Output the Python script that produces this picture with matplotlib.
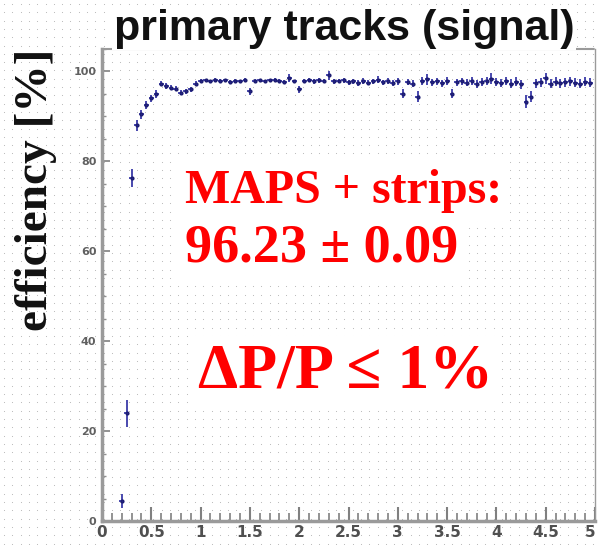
import numpy as np
import matplotlib
matplotlib.use("Agg")
import matplotlib.pyplot as plt
from matplotlib.ticker import MultipleLocator, FixedLocator

# Track-finding efficiency vs momentum, 0.05 GeV/c bins starting at p = 0.20
p_start, p_step = 0.20, 0.05
efficiency = [
    4.5, 24.0, 76.4, 88.0, 90.5, 92.5, 94.0, 95.0, 97.3, 96.8,
    96.4, 96.2, 95.3, 95.6, 96.0, 97.3, 97.9, 98.0, 97.8, 98.1,
    97.9, 98.0, 97.6, 97.9, 97.8, 98.1, 95.6, 97.9, 98.0, 97.8,
    98.0, 98.2, 97.9, 97.7, 98.6, 97.8, 96.0, 97.9, 98.1, 97.8,
    98.0, 97.9, 99.2, 97.8, 97.9, 98.0, 97.6, 97.8, 97.4, 97.9,
    97.5, 97.8, 98.2, 97.6, 97.9, 97.4, 97.8, 95.0, 97.6, 97.3,
    94.4, 97.9, 98.3, 97.6, 97.8, 97.4, 97.9, 95.0, 97.6, 97.8,
    97.5, 97.9, 97.3, 97.7, 97.8, 98.4, 97.6, 97.4, 97.8, 97.3,
    97.7, 97.2, 93.3, 94.4, 97.4, 97.6, 98.5, 97.3, 97.7, 97.4,
    97.6, 97.8, 97.5, 97.3, 97.7, 97.5,
]
eff_error = [
    1.5, 3.0, 2.0, 1.2, 1.0, 0.9, 0.8, 0.8, 0.6, 0.6,
    0.6, 0.6, 0.6, 0.6, 0.5, 0.5, 0.4, 0.4, 0.4, 0.4,
    0.4, 0.4, 0.4, 0.4, 0.4, 0.4, 0.8, 0.4, 0.4, 0.4,
    0.4, 0.4, 0.4, 0.4, 0.9, 0.4, 0.8, 0.4, 0.5, 0.5,
    0.5, 0.5, 1.0, 0.5, 0.5, 0.5, 0.6, 0.6, 0.6, 0.6,
    0.6, 0.6, 0.8, 0.6, 0.6, 0.7, 0.7, 1.0, 0.7, 0.8,
    1.2, 0.8, 1.2, 0.8, 0.8, 0.8, 0.8, 1.0, 0.8, 0.8,
    0.8, 0.9, 0.9, 0.9, 0.9, 1.2, 0.9, 0.9, 0.9, 1.0,
    1.0, 1.0, 1.4, 1.3, 1.0, 1.0, 1.2, 1.0, 1.0, 1.0,
    1.0, 1.0, 1.0, 1.0, 1.0, 1.0,
]
momentum = p_start + p_step * np.arange(len(efficiency))

x_ticks = [0, 0.5, 1, 1.5, 2, 2.5, 3, 3.5, 4, 4.5, 5]
x_tick_labels = ["0", "0.5", "1", "1.5", "2", "2.5", "3", "3.5", "4", "4.5", "5"]
y_ticks = [0, 20, 40, 60, 80, 100]

W, H = 598, 545
fig = plt.figure(figsize=(W / 100, H / 100), dpi=100)
fig.patch.set_facecolor("white")

# dotted canvas pattern
bg = fig.add_axes([0, 0, 1, 1], zorder=0)
bg.set_xlim(0, W)
bg.set_ylim(H, 0)
bg.axis("off")
gx, gy = np.meshgrid(np.arange(4, W, 8.3), np.arange(4, H, 8.3))
bg.scatter(gx.ravel(), gy.ravel(), s=0.6, color="#b4b4b4", linewidths=0)

ax = fig.add_axes([102 / W, 1 - 521 / H, 493 / W, 472 / H], zorder=1)
ax.patch.set_alpha(0)
ax.set_xlim(0, 5)
ax.set_ylim(0, 105)

# histogram-style points: horizontal bar spans the bin, vertical bar is the error
ax.errorbar(momentum, efficiency, xerr=p_step / 2, yerr=eff_error, fmt="o", ms=2.0,
            color="#23238a", ecolor="#3a3aa8", elinewidth=1.3, capsize=0,
            mec="#1c1c70", zorder=3)

for side in ["left", "bottom", "right", "top"]:
    ax.spines[side].set_color("#9a9a9a")
ax.spines["left"].set_linewidth(2.5)
ax.spines["bottom"].set_linewidth(2.5)
ax.spines["top"].set_linestyle((0, (2, 1)))
ax.spines["top"].set_linewidth(1.5)
ax.spines["right"].set_linewidth(1.0)

ax.xaxis.set_major_locator(FixedLocator(x_ticks))
ax.set_xticklabels(x_tick_labels)
ax.xaxis.set_minor_locator(MultipleLocator(0.1))
ax.yaxis.set_major_locator(FixedLocator(y_ticks))
ax.yaxis.set_minor_locator(MultipleLocator(5))
ax.tick_params(axis="x", which="major", direction="in", length=10, width=1.5,
               color="#808080", labelsize=11, labelcolor="#505050", pad=3)
ax.tick_params(axis="x", which="minor", direction="in", length=6, width=1.2,
               color="#808080")
ax.tick_params(axis="y", which="major", direction="in", length=6, width=1.2,
               color="#808080", labelsize=8, labelcolor="#606060", pad=4)
ax.tick_params(axis="y", which="minor", direction="in", length=3, width=1.0,
               color="#909090")
for lab in ax.get_xticklabels() + ax.get_yticklabels():
    lab.set_fontweight("bold")
    lab.set_family("DejaVu Sans")
ax.get_xticklabels()[-1].set_horizontalalignment("right")

fig.text(344 / W, 1 - 29 / H, "primary tracks (signal)", ha="center", va="center",
         fontsize=31, fontweight="bold", family="Liberation Sans", color="#111111",
         bbox=dict(facecolor="white", edgecolor="none", pad=1), zorder=5)

fig.text(36 / W, 1 - 190 / H, "efficiency [%]", rotation=90, ha="center",
         va="center", fontsize=34, fontweight="bold", family="Liberation Serif",
         color="#111111", zorder=5)

red = "#ff0000"
fig.text(185 / W, 1 - 203 / H, "MAPS + strips:", ha="left", va="baseline",
         fontsize=34.5, fontweight="bold", family="Liberation Serif", color=red,
         bbox=dict(facecolor="white", edgecolor="none", pad=6), zorder=5)
fig.text(185 / W, 1 - 261 / H, "96.23 \u00b1 0.09", ha="left", va="baseline",
         fontsize=39, fontweight="bold", family="Liberation Serif", color=red,
         bbox=dict(facecolor="white", edgecolor="none", pad=6), zorder=5)
fig.text(198 / W, 1 - 388 / H, "\u0394P/P \u2264 1%", ha="left", va="baseline",
         fontsize=46, fontweight="bold", family=["Liberation Serif", "DejaVu Serif"],
         color=red, bbox=dict(facecolor="white", edgecolor="none", pad=6), zorder=5)

fig.savefig("out.png", dpi=100, facecolor="white")
